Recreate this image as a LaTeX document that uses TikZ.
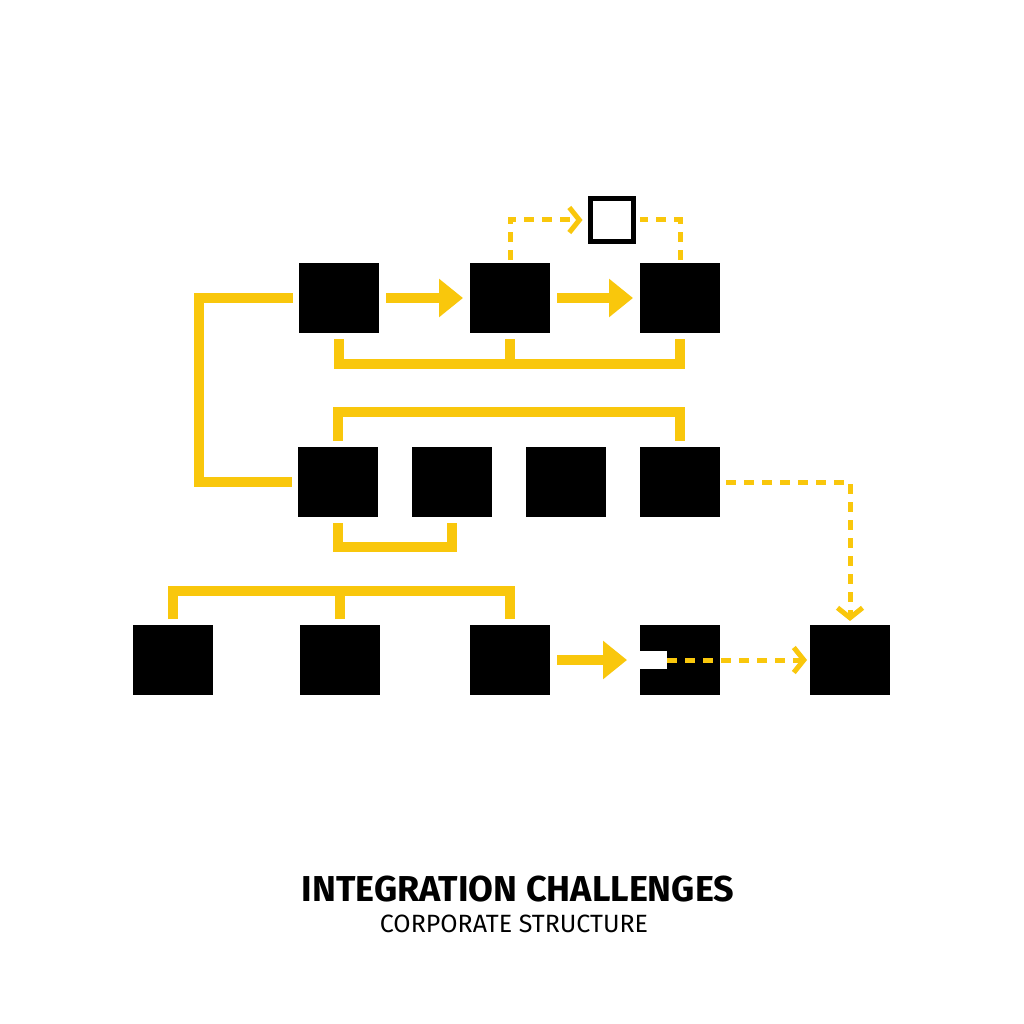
\documentclass[tikz,border=0pt]{standalone}
\usepackage{fontspec}
\setmainfont{Fira Sans}
\usetikzlibrary{arrows.meta}
\definecolor{ylw}{RGB}{249,199,12}
\tikzset{
  blk/.style={fill=black, draw=none, minimum width=80pt, minimum height=70pt, inner sep=0pt, outer sep=0pt},
  hollow/.style={fill=white, draw=black, line width=5pt, minimum width=43pt, minimum height=43pt, inner sep=0pt, outer sep=0pt},
  ybar/.style={draw=ylw, line width=10.5pt, line cap=butt, line join=miter},
  yarrow/.style={draw=ylw, line width=10.5pt, line cap=butt, -{Triangle[width=37pt,length=24pt]}},
  ydash/.style={draw=ylw, line width=5pt, line cap=butt, dash pattern=on 10pt off 8pt},
  ydasharrow/.style={ydash, -{Straight Barb[length=10pt,width=25pt,line width=5pt]}},
}
\begin{document}
\begin{tikzpicture}[x=1pt,y=-1pt]
\useasboundingbox (0,0) rectangle (1024,1024);
\fill[white] (0,0) rectangle (1024,1024);
% top row
\node[blk] (t1) at (339,298) {};
\node[blk] (t2) at (510,298) {};
\node[blk] (t3) at (680,298) {};
\node[hollow] (s) at (612,220) {};
% middle row
\node[blk] (m1) at (338,482) {};
\node[blk] (m2) at (452,482) {};
\node[blk] (m3) at (566,482) {};
\node[blk] (m4) at (680,482) {};
% bottom row
\node[blk] (b1) at (173,660) {};
\node[blk] (b2) at (340,660) {};
\node[blk] (b3) at (510,660) {};
\node[blk] (b4) at (680,660) {};
\node[blk] (b5) at (850,660) {};
% notch in b4
\coordinate (notch) at ([xshift=27pt]b4.west);
\fill[white] ([yshift=9pt]b4.west) rectangle ([yshift=-9pt]notch);
% solid arrows
\draw[yarrow] ([xshift=7pt]t1.east) -- ([xshift=-7pt]t2.west);
\draw[yarrow] ([xshift=7pt]t2.east) -- ([xshift=-7pt]t3.west);
\draw[yarrow] ([xshift=7pt]b3.east) -- ([xshift=-13pt]b4.west);
% left bracket
\draw[ybar] ([xshift=-6pt]t1.west) -- ++(-94,0) |- ([xshift=-6pt]m1.west);
% bracket under top row
\draw[ybar] ([yshift=-6pt]t1.south) -- ++(0,25) -| ([yshift=-6pt]t3.south);
\draw[ybar] ([yshift=-6pt]t2.south) -- ++(0,25);
% bracket above middle row
\draw[ybar] ([yshift=6pt]m1.north) -- ++(0,-29) -| ([yshift=6pt]m4.north);
% bracket under middle row
\draw[ybar] ([yshift=-6pt]m1.south) -- ++(0,24) -| ([yshift=-6pt]m2.south);
% bracket above bottom row
\draw[ybar] ([yshift=6pt]b1.north) -- ++(0,-28) -| ([yshift=6pt]b3.north);
\draw[ybar] ([yshift=6pt]b2.north) -- ++(0,-28);
% dashed connectors
\draw[ydasharrow] ([yshift=3pt]t2.north) |- ([xshift=-8pt]s.west);
\draw[ydash] ([yshift=3pt]t3.north) |- ([xshift=6pt]s.east);
\draw[ydasharrow] ([xshift=6pt]m4.east) -| ([yshift=4pt]b5.north);
\draw[ydasharrow] (notch) -- ([xshift=-3pt]b5.west);
% titles
\node[font=\fontsize{36}{38}\selectfont\bfseries, inner sep=0pt, anchor=base] (title) at (518,901) {INTEGRATION CHALLENGES};
\node[font=\fontsize{25}{27}\selectfont, inner sep=0pt, anchor=base] (sub) at (514,932) {CORPORATE STRUCTURE};
\end{tikzpicture}
\end{document}
